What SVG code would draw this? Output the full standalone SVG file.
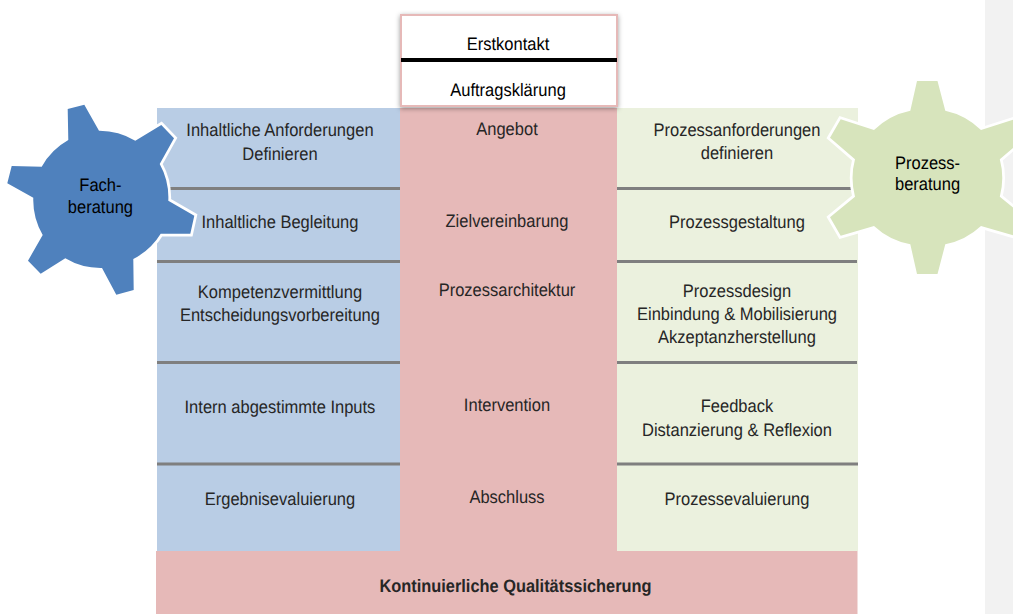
<svg xmlns="http://www.w3.org/2000/svg" width="1013" height="614" viewBox="0 0 1013 614">
<style>
text{font-family:"Liberation Sans",Arial,sans-serif;font-size:18px;fill:#262626;text-anchor:middle;text-rendering:geometricPrecision}
.k{fill:#000}
.b{font-weight:bold}
.sep{stroke:#7f7f7f;stroke-width:3;fill:none}
.gear{stroke:#fff;stroke-width:5.500;stroke-linejoin:miter;paint-order:stroke}
</style>
<defs>
<filter id="sh" x="-10%" y="-15%" width="120%" height="135%"><feDropShadow dx="0" dy="1.500" stdDeviation="2.500" flood-color="#000" flood-opacity="0.4"/></filter>
</defs>
<rect id="sidebar" x="985" y="0" width="28" height="614" fill="#f2f2f2"/>
<g id="col-fach"><rect x="157" y="108" width="243" height="443" fill="#b9cde5"/></g>
<g id="col-mitte"><rect x="400" y="108" width="217" height="443" fill="#e6b9b8"/></g>
<g id="col-prozess"><rect x="617" y="108" width="241" height="443" fill="#ebf1de"/></g>
<g id="qs"><rect x="156" y="551" width="701.500" height="63" fill="#e6b9b8"/><text class="b" transform="translate(515.500 591.500) scale(.91 1)">Kontinuierliche Qualitätssicherung</text></g>
<g id="connectors">
<path class="sep" d="M157 188.500H400M157 261.500H400M157 362.500H400M157 464H400M617 188.500H857M617 261.500H857M617 362.500H857M617 464H858"/>
</g>
<g id="top"><rect x="401" y="15" width="216" height="91" fill="#fff" stroke="#e6b9b8" stroke-width="2" filter="url(#sh)"/>
<path d="M401 60H617" stroke="#000" stroke-width="4"/>
<g transform="scale(.917 1)"><text class="k" x="554" y="50">Erstkontakt</text><text class="k" x="554" y="96">Auftragsklärung</text></g></g>
<g id="gear-fach"><path class="gear" fill="#4f81bd" d="M67.700 109L84.300 104.700L99 130.700A69 69 0 0 1 135.300 140.700L161.300 125L174 138.300L159.700 164A69 69 0 0 1 168.300 200.700L194.300 215.700L190.300 233.700L160.700 233.700A69 69 0 0 1 133.300 259L133.700 290L116.300 294.700L102 268A69 69 0 0 1 65.300 258.300L40.700 273.700L28 260.700L42.700 235A69 69 0 0 1 33.300 197.700L7.300 183.300L11.700 166L41.700 166.700A69 69 0 0 1 68.300 140Z"/>
<g transform="scale(.917 1)"><text class="k" x="109.500" y="190.500">Fach-</text><text class="k" x="109.500" y="212.500">beratung</text></g></g>
<g id="gear-prozess"><path class="gear" fill="#d7e4bc" d="M917 81L937.500 81L945.300 110.700A73 73 0 0 1 981 130L1014.500 119.300L1025 137.700L999.800 159.300A73 73 0 0 1 999.800 196.700L1025 217.300L1014.500 235.700L981 226A73 73 0 0 1 945.300 244.300L937.500 274L917 274L910.300 244.300A73 73 0 0 1 874 226L840.700 235.700L830 217.300L855 196.700A73 73 0 0 1 855 159.300L830 137.700L840.700 119.300L874 130A73 73 0 0 1 910.300 110.700Z"/>
<g transform="scale(.917 1)"><text class="k" x="1011.500" y="169">Prozess-</text><text class="k" x="1011.500" y="190">beratung</text></g></g>
<g id="labels-fach" transform="scale(.917 1)">
<text x="305.300" y="136">Inhaltliche Anforderungen</text><text x="305.300" y="159.500">Definieren</text>
<text x="305.300" y="228">Inhaltliche Begleitung</text>
<text x="305.300" y="297.500">Kompetenzvermittlung</text><text x="305.300" y="320.500">Entscheidungsvorbereitung</text>
<text x="305.300" y="412.500">Intern abgestimmte Inputs</text>
<text x="305.300" y="504.500">Ergebnisevaluierung</text>
</g>
<g id="labels-mitte" transform="scale(.917 1)">
<text x="552.900" y="135">Angebot</text>
<text x="552.900" y="226.500">Zielvereinbarung</text>
<text x="552.900" y="295.500">Prozessarchitektur</text>
<text x="552.900" y="410.500">Intervention</text>
<text x="552.900" y="502.500">Abschluss</text>
</g>
<g id="labels-prozess" transform="scale(.917 1)">
<text x="803.700" y="135.500">Prozessanforderungen</text><text x="803.700" y="158.500">definieren</text>
<text x="803.700" y="228">Prozessgestaltung</text>
<text x="803.700" y="296.500">Prozessdesign</text><text x="803.700" y="319.500">Einbindung &amp; Mobilisierung</text><text x="803.700" y="342.500">Akzeptanzherstellung</text>
<text x="803.700" y="411.500">Feedback</text><text x="803.700" y="435.500">Distanzierung &amp; Reflexion</text>
<text x="803.700" y="504.500">Prozessevaluierung</text>
</g>
</svg>
